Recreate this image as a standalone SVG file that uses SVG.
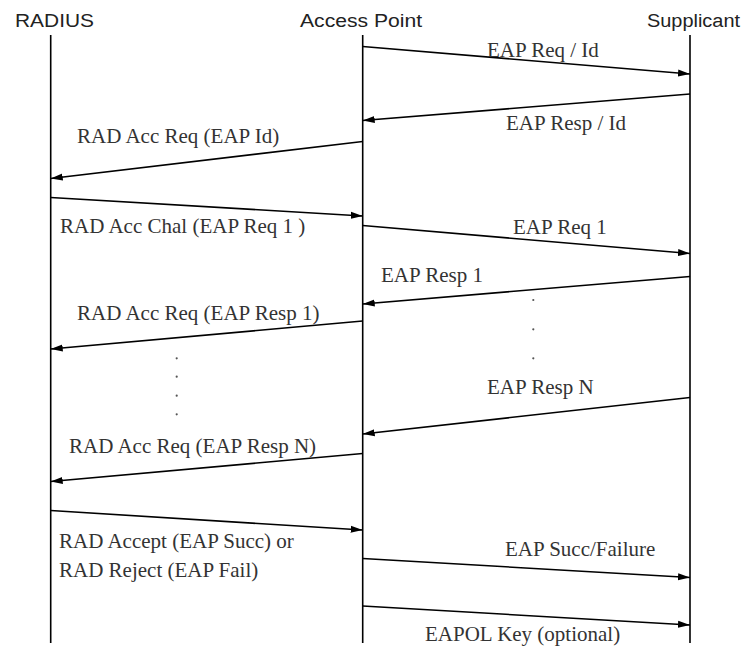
<svg xmlns="http://www.w3.org/2000/svg" width="749" height="649" viewBox="0 0 749 649">
  <defs>
    <marker id="arrow" markerUnits="userSpaceOnUse" markerWidth="13" markerHeight="8" refX="12" refY="4" orient="auto">
      <path d="M0,0.5 L12,4 L0,7.5 z" fill="#000"/>
    </marker>
    <style>
      .head { font-family: "Liberation Sans", Arial, sans-serif; font-size: 18px; fill: #222; }
      .lbl { font-family: "Liberation Serif", "Times New Roman", serif; font-size: 21px; fill: #333; }
      .life { stroke: #000; stroke-width: 1.6; fill: none; }
      .msg { stroke: #000; stroke-width: 1.6; fill: none; marker-end: url(#arrow); }
      .dot { fill: #555; }
    </style>
  </defs>
  <rect width="749" height="649" fill="#fff"/>

  <!-- participants -->
  <g id="radius">
    <text class="head" x="15" y="27" textLength="79" lengthAdjust="spacingAndGlyphs">RADIUS</text>
    <line class="life" x1="50.7" y1="35" x2="50.7" y2="643"/>
  </g>
  <g id="access-point">
    <text class="head" x="300" y="27" textLength="122" lengthAdjust="spacingAndGlyphs">Access Point</text>
    <line class="life" x1="362.7" y1="35" x2="362.7" y2="643"/>
  </g>
  <g id="supplicant">
    <text class="head" x="647" y="27" textLength="93" lengthAdjust="spacingAndGlyphs">Supplicant</text>
    <line class="life" x1="690" y1="35" x2="690" y2="643"/>
  </g>

  <!-- messages -->
  <g id="connectors">
    <line class="msg" x1="362.7" y1="46.5" x2="690" y2="74"/>
    <line class="msg" x1="690" y1="94" x2="362.7" y2="120.5"/>
    <line class="msg" x1="362.7" y1="141.5" x2="50.7" y2="178.5"/>
    <line class="msg" x1="50.7" y1="197.5" x2="362.7" y2="216"/>
    <line class="msg" x1="362.7" y1="225.5" x2="690" y2="253.5"/>
    <line class="msg" x1="690" y1="276.5" x2="362.7" y2="304"/>
    <line class="msg" x1="362.7" y1="321" x2="50.7" y2="349"/>
    <line class="msg" x1="690" y1="397.5" x2="362.7" y2="434"/>
    <line class="msg" x1="362.7" y1="453.5" x2="50.7" y2="481.5"/>
    <line class="msg" x1="50.7" y1="510.5" x2="362.7" y2="530"/>
    <line class="msg" x1="362.7" y1="558.5" x2="690" y2="577.5"/>
    <line class="msg" x1="362.7" y1="606" x2="690" y2="625"/>
  </g>

  <!-- message labels -->
  <g id="labels">
    <text class="lbl" x="487" y="57">EAP Req / Id</text>
    <text class="lbl" x="506" y="130">EAP Resp / Id</text>
    <text class="lbl" x="77" y="142.5">RAD Acc Req (EAP Id)</text>
    <text class="lbl" x="60" y="233">RAD Acc Chal (EAP Req 1 )</text>
    <text class="lbl" x="513" y="234">EAP Req 1</text>
    <text class="lbl" x="381" y="281.5">EAP Resp 1</text>
    <text class="lbl" x="77" y="320">RAD Acc Req (EAP Resp 1)</text>
    <text class="lbl" x="487" y="394">EAP Resp N</text>
    <text class="lbl" x="69" y="453">RAD Acc Req (EAP Resp N)</text>
    <text class="lbl" x="59" y="548">RAD Accept (EAP Succ) or</text>
    <text class="lbl" x="59" y="576.5">RAD Reject (EAP Fail)</text>
    <text class="lbl" x="505" y="555.5">EAP Succ/Failure</text>
    <text class="lbl" x="425" y="640.5">EAPOL Key (optional)</text>
  </g>

  <!-- ellipsis dots -->
  <g id="ellipsis">
    <circle class="dot" cx="533.3" cy="300" r="1.1"/>
    <circle class="dot" cx="533.3" cy="329.3" r="1.1"/>
    <circle class="dot" cx="533.3" cy="358.3" r="1.1"/>
    <circle class="dot" cx="176.7" cy="358.3" r="1.1"/>
    <circle class="dot" cx="176.7" cy="376.7" r="1.1"/>
    <circle class="dot" cx="176.7" cy="395.7" r="1.1"/>
    <circle class="dot" cx="176.7" cy="414.3" r="1.1"/>
  </g>
</svg>
